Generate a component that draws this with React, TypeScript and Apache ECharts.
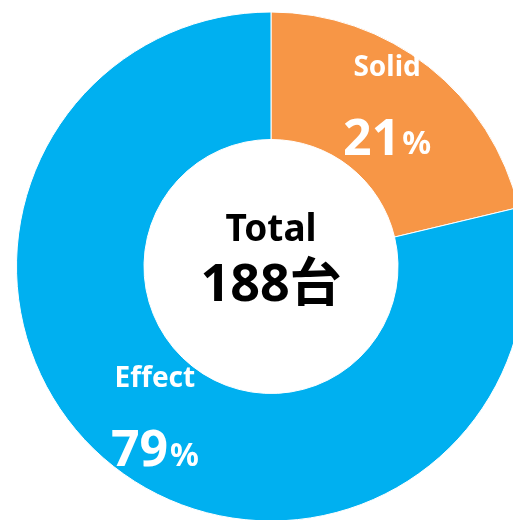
import React, { useEffect, useRef } from "react";
import * as echarts from "echarts";

const categories = ["Solid", "Effect"];
const values = [40, 148];
const percentLabels = ["21", "79"];
const colors = ["#F79646", "#00B0F0"];
const totalLabel = "Total";
const totalValue = "188台";

const FONT = '"Noto Sans", "Noto Sans CJK JP", sans-serif';

export default function App() {
  const ref = useRef<HTMLDivElement>(null);
  useEffect(() => {
    if (!ref.current) return;
    const chart = echarts.init(ref.current, undefined, { renderer: "svg" });
    const pads = [
      [0, 8, 28, 0],
      [0, 0, 14, 8],
    ];
    chart.setOption({
      animation: false,
      graphic: [
        {
          type: "text",
          x: 271,
          y: 226,
          style: {
            text: totalLabel,
            font: `bold 37px ${FONT}`,
            fill: "#000",
            align: "center",
            verticalAlign: "middle",
          },
        },
        {
          type: "text",
          x: 271,
          y: 280,
          style: {
            text: totalValue,
            font: `bold 52px ${FONT}`,
            fill: "#000",
            align: "center",
            verticalAlign: "middle",
          },
        },
      ],
      series: [
        {
          type: "pie",
          center: [271, 266.5],
          radius: [127, 254.5],
          startAngle: 90,
          clockwise: true,
          itemStyle: { borderColor: "#fff", borderWidth: 1 },
          label: {
            show: true,
            position: "inside",
            color: "#fff",
            fontFamily: FONT,
            rich: {
              name: {
                fontSize: 28,
                fontWeight: "bold",
                fontFamily: FONT,
                color: "#fff",
                lineHeight: 71,
              },
              val: {
                fontSize: 50,
                fontWeight: "bold",
                fontFamily: FONT,
                color: "#fff",
                lineHeight: 71,
              },
              pct: {
                fontSize: 32,
                fontWeight: "bold",
                fontFamily: FONT,
                color: "#fff",
                lineHeight: 59,
                padding: [12, 0, 0, 2],
              },
            },
          },
          labelLine: { show: false },
          data: categories.map((c, i) => ({
            name: c,
            value: values[i],
            itemStyle: { color: colors[i] },
            label: {
              formatter: `{name|${c}}\n{val|${percentLabels[i]}}{pct|%}`,
              padding: pads[i],
            },
          })),
        },
      ],
    });
    return () => chart.dispose();
  }, []);
  return (
    <div
      ref={ref}
      style={{ position: "fixed", left: 0, top: 0, width: 513, height: 520 }}
    />
  );
}
